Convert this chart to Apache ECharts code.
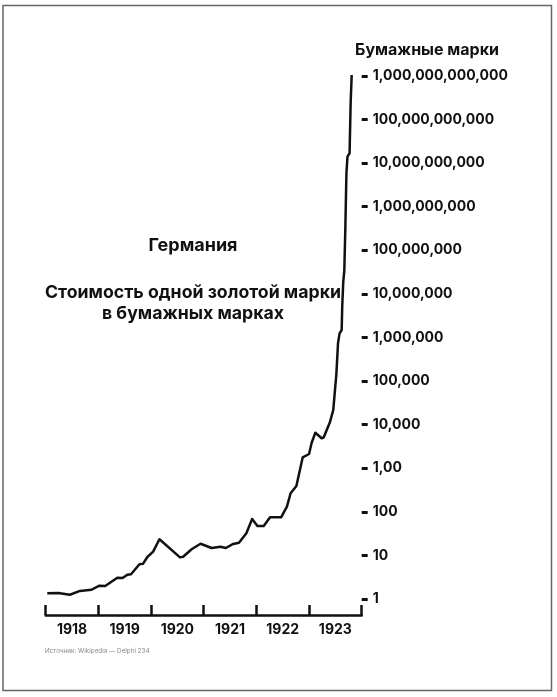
<!DOCTYPE html>
<html>
<head>
<meta charset="utf-8">
<script src="https://cdn.jsdelivr.net/npm/echarts@6/dist/echarts.min.js"></script>
<style>
html,body{margin:0;padding:0;background:#fff;}
#c{width:557px;height:697px;}
</style>
</head>
<body>
<div id="c"></div>
<script>
// Years shown on the x axis
const yearLabels = ['1918', '1919', '1920', '1921', '1922', '1923'];
// Tick labels on the log y axis (as printed in the original, incl. "1,00")
const valueLabels = ['1', '10', '100', '1,00', '10,000', '100,000', '1,000,000',
  '10,000,000', '100,000,000', '1,000,000,000', '10,000,000,000',
  '100,000,000,000', '1,000,000,000,000'];
// Time of each observation (decimal year)
const time = [1918.03, 1918.24, 1918.46, 1918.65, 1918.87, 1919.02, 1919.13, 1919.36,
  1919.46, 1919.55, 1919.62, 1919.78, 1919.85, 1919.93, 1920.04, 1920.16,
  1920.55, 1920.61, 1920.77, 1920.94, 1921.15, 1921.32, 1921.42, 1921.56,
  1921.67, 1921.81, 1921.92, 1922.02, 1922.14, 1922.26, 1922.47, 1922.58,
  1922.65, 1922.76, 1922.88, 1923.00, 1923.05, 1923.12, 1923.24, 1923.28,
  1923.40, 1923.46, 1923.52, 1923.55, 1923.58, 1923.62, 1923.63, 1923.65,
  1923.67, 1923.69, 1923.71, 1923.73, 1923.77, 1923.79, 1923.81];
// Price of one gold mark in paper marks
const paperMarks = [1.35, 1.37, 1.25, 1.53, 1.63, 2.02, 1.99, 3.08,
  3.03, 3.61, 3.69, 6.25, 6.45, 9.2, 12.2, 23.4,
  9.0, 9.3, 13.8, 18.5, 14.8, 15.8, 14.8, 18.3,
  19.6, 32.1, 68.4, 47.2, 47.2, 74.8, 74.8, 131,
  266, 391, 1778, 2117, 3846, 6516, 4853, 5117,
  11660, 21600, 150000, 732000, 1.24e6, 1.48e6, 5.06e6, 1.9e7,
  3.39e7, 3.46e8, 5.8e9, 1.4e10, 1.67e10, 2.34e11, 1.04e12];

const FONT = 'Inter';
const chart = echarts.init(document.getElementById('c'), null, {renderer: 'canvas'});
chart.setOption({
  backgroundColor: '#fff',
  animation: false,
  grid: {left: 45.7, right: 195.3, top: 75.8, bottom: 98, containLabel: false},
  xAxis: [{
    type: 'category',
    data: yearLabels,
    boundaryGap: true,
    position: 'bottom',
    offset: 16,
    axisLine: {show: true, lineStyle: {color: '#111', width: 2.5}},
    axisTick: {show: true, inside: true, length: 10, alignWithLabel: false, lineStyle: {color: '#111', width: 2.5}},
    axisLabel: {margin: 8, color: '#111', fontFamily: FONT, fontWeight: 700, fontSize: 14},
    splitLine: {show: false}
  }, {
    type: 'value',
    min: 1918, max: 1924,
    show: false
  }],
  yAxis: {
    type: 'log',
    logBase: 10,
    min: 1, max: 1e12,
    interval: 1,
    position: 'right',
    axisLine: {show: false},
    axisTick: {show: true, inside: false, length: 6, lineStyle: {color: '#111', width: 3}},
    splitLine: {show: false},
    minorTick: {show: false},
    axisLabel: {
      margin: 11, color: '#111', fontFamily: FONT, fontWeight: 700, fontSize: 14,
      formatter: function (v) {
        const i = Math.round(Math.log10(v));
        return valueLabels[i] !== undefined ? valueLabels[i] : '';
      }
    }
  },
  series: [{
    type: 'line',
    xAxisIndex: 1,
    data: time.map((t, i) => [t, paperMarks[i]]),
    showSymbol: false,
    symbol: 'none',
    lineStyle: {color: '#111', width: 2.5, join: 'round'},
    itemStyle: {color: '#111'}
  }],
  graphic: [
    {type: 'rect', shape: {x: 3, y: 5.5, width: 548.5, height: 685}, style: {fill: 'none', stroke: '#666', lineWidth: 1.5}, silent: true},
    {type: 'text', x: 427, y: 50, style: {text: 'Бумажные марки', fontFamily: FONT, fontWeight: 700, fontSize: 16, fill: '#111', align: 'center', verticalAlign: 'middle'}},
    {type: 'text', x: 193, y: 246, style: {text: 'Германия', fontFamily: FONT, fontWeight: 700, fontSize: 18, fill: '#111', align: 'center', verticalAlign: 'middle'}},
    {type: 'text', x: 193, y: 293, style: {text: 'Стоимость одной золотой марки', fontFamily: FONT, fontWeight: 700, fontSize: 17.7, fill: '#111', align: 'center', verticalAlign: 'middle'}},
    {type: 'text', x: 193, y: 314, style: {text: 'в бумажных марках', fontFamily: FONT, fontWeight: 700, fontSize: 17.7, fill: '#111', align: 'center', verticalAlign: 'middle'}},
    {type: 'text', x: 45, y: 651, style: {text: 'Источник: Wikipedia — Delphi 234', fontFamily: FONT, fontSize: 6.3, fill: '#888', align: 'left', verticalAlign: 'middle'}}
  ]
});
</script>
</body>
</html>
